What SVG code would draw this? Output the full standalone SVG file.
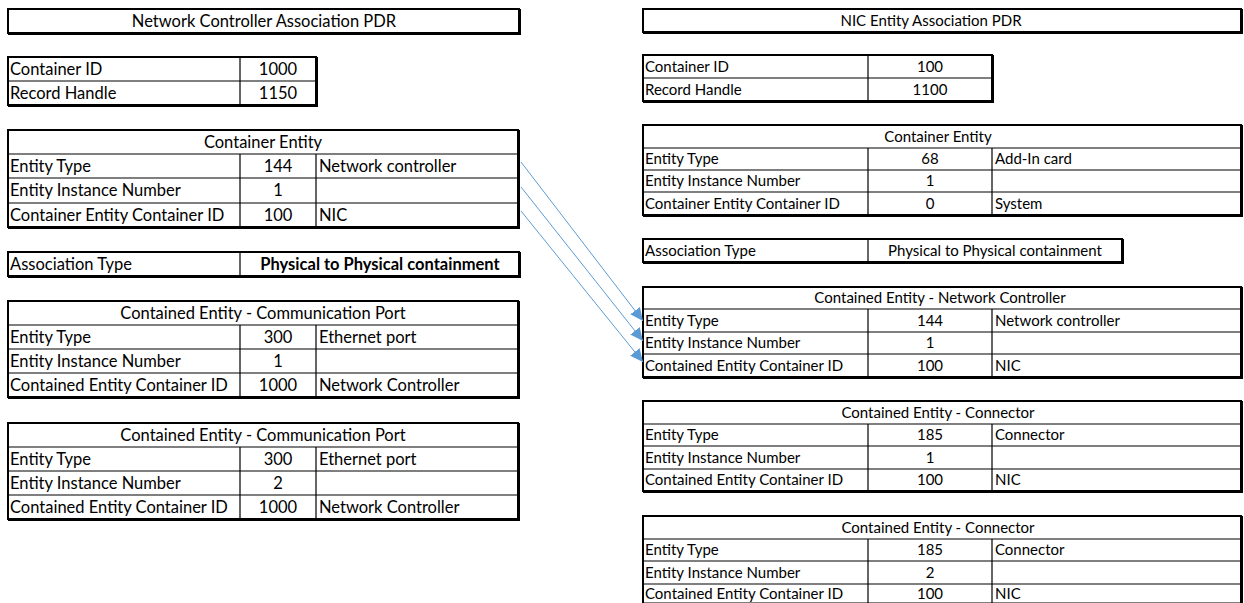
<svg xmlns="http://www.w3.org/2000/svg" width="1244" height="603" viewBox="0 0 1244 603">
<defs>
<style>
text{font-family:Lato,"Liberation Sans",sans-serif;fill:#000}
.l{font-size:16.5px}
.r{font-size:15px}
.c{text-anchor:middle}
.b{font-weight:bold}
.o{fill:#fff;stroke:#000;stroke-width:2}
.t{fill:none;stroke:#000;stroke-width:3}
.g{fill:none;stroke:#000;stroke-width:1.2}
.arr{stroke:#5B9BD5;stroke-width:1;fill:none;marker-end:url(#ah)}
</style>
<marker id="ah" markerUnits="userSpaceOnUse" markerWidth="14" markerHeight="12" refX="13" refY="6" orient="auto">
<path d="M0,0 L13,6 L0,12 Z" fill="#5B9BD5"/>
</marker>
</defs>
<rect width="1244" height="603" fill="#fff"/>

<!-- LEFT COLUMN -->
<g id="nc-title">
<rect class="o" x="8" y="9" width="511" height="24"/>
<path class="t" d="M519.5,9 V33.5 H8"/>
<text class="l c" x="264" y="26.5">Network Controller Association PDR</text>
</g>

<g id="nc-container-id">
<rect class="o" x="8" y="57" width="308" height="48"/>
<path class="t" d="M316.5,57 V105.5 H8"/>
<path class="g" d="M8,81 H316 M240,57 V105"/>
<text class="l" x="10" y="74.5">Container ID</text>
<text class="l c" x="278" y="74.5">1000</text>
<text class="l" x="10" y="98.5">Record Handle</text>
<text class="l c" x="278" y="98.5">1150</text>
</g>

<g id="nc-container-entity">
<rect class="o" x="8" y="130" width="510" height="97"/>
<path class="t" d="M518.5,130 V227.5 H8"/>
<path class="g" d="M8,154 H518 M8,178 H518 M8,203 H518 M240,154 V227 M316,154 V227"/>
<text class="l c" x="263" y="147.5">Container Entity</text>
<text class="l" x="10" y="171.5">Entity Type</text>
<text class="l c" x="278" y="171.5">144</text>
<text class="l" x="319" y="171.5">Network controller</text>
<text class="l" x="10" y="196">Entity Instance Number</text>
<text class="l c" x="278" y="196">1</text>
<text class="l" x="10" y="220.5">Container Entity Container ID</text>
<text class="l c" x="278" y="220.5">100</text>
<text class="l" x="319" y="220.5">NIC</text>
</g>

<g id="nc-association">
<rect class="o" x="8" y="252" width="511" height="24"/>
<path class="t" d="M519.5,252 V276.5 H8"/>
<path class="g" d="M240,252 V276"/>
<text class="l" x="10" y="269.5">Association Type</text>
<text class="l c b" x="380" y="269.5">Physical to Physical containment</text>
</g>

<g id="nc-port-1">
<rect class="o" x="8" y="301" width="510" height="96"/>
<path class="t" d="M518.5,301 V397.5 H8"/>
<path class="g" d="M8,325 H518 M8,349 H518 M8,373 H518 M240,325 V397 M316,325 V397"/>
<text class="l c" x="263" y="318.5">Contained Entity - Communication Port</text>
<text class="l" x="10" y="342.5">Entity Type</text>
<text class="l c" x="278" y="342.5">300</text>
<text class="l" x="319" y="342.5">Ethernet port</text>
<text class="l" x="10" y="366.5">Entity Instance Number</text>
<text class="l c" x="278" y="366.5">1</text>
<text class="l" x="10" y="390.5">Contained Entity Container ID</text>
<text class="l c" x="278" y="390.5">1000</text>
<text class="l" x="319" y="390.5">Network Controller</text>
</g>

<g id="nc-port-2">
<rect class="o" x="8" y="423" width="510" height="96"/>
<path class="t" d="M518.5,423 V519.5 H8"/>
<path class="g" d="M8,447 H518 M8,471 H518 M8,495 H518 M240,447 V519 M316,447 V519"/>
<text class="l c" x="263" y="440.5">Contained Entity - Communication Port</text>
<text class="l" x="10" y="464.5">Entity Type</text>
<text class="l c" x="278" y="464.5">300</text>
<text class="l" x="319" y="464.5">Ethernet port</text>
<text class="l" x="10" y="488.5">Entity Instance Number</text>
<text class="l c" x="278" y="488.5">2</text>
<text class="l" x="10" y="512.5">Contained Entity Container ID</text>
<text class="l c" x="278" y="512.5">1000</text>
<text class="l" x="319" y="512.5">Network Controller</text>
</g>

<!-- RIGHT COLUMN -->
<g id="nic-title">
<rect class="o" x="643" y="9" width="598" height="23"/>
<path class="t" d="M1241.5,9 V32.5 H643"/>
<text class="r c" x="931" y="25.5">NIC Entity Association PDR</text>
</g>

<g id="nic-container-id">
<rect class="o" x="643" y="55" width="349" height="46"/>
<path class="t" d="M992.5,55 V101.5 H643"/>
<path class="g" d="M643,78 H992 M868,55 V101"/>
<text class="r" x="645" y="71.5">Container ID</text>
<text class="r c" x="930" y="71.5">100</text>
<text class="r" x="645" y="94.5">Record Handle</text>
<text class="r c" x="930" y="94.5">1100</text>
</g>

<g id="nic-container-entity">
<rect class="o" x="643" y="125" width="598" height="90"/>
<path class="t" d="M1241.5,125 V215.5 H643"/>
<path class="g" d="M643,148 H1241 M643,170 H1241 M643,192 H1241 M868,148 V215 M992,148 V215"/>
<text class="r c" x="938" y="141.5">Container Entity</text>
<text class="r" x="645" y="164">Entity Type</text>
<text class="r c" x="930" y="164">68</text>
<text class="r" x="995" y="164">Add-In card</text>
<text class="r" x="645" y="186">Entity Instance Number</text>
<text class="r c" x="930" y="186">1</text>
<text class="r" x="645" y="208.5">Container Entity Container ID</text>
<text class="r c" x="930" y="208.5">0</text>
<text class="r" x="995" y="208.5">System</text>
</g>

<g id="nic-association">
<rect class="o" x="643" y="239" width="479" height="23"/>
<path class="t" d="M1122.5,239 V262.5 H643"/>
<path class="g" d="M868,239 V262"/>
<text class="r" x="645" y="255.5">Association Type</text>
<text class="r c" x="995" y="255.5">Physical to Physical containment</text>
</g>

<g id="nic-network-controller">
<rect class="o" x="643" y="287" width="598" height="90"/>
<path class="t" d="M1241.5,287 V377.5 H643"/>
<path class="g" d="M643,309 H1241 M643,332 H1241 M643,354 H1241 M868,309 V377 M992,309 V377"/>
<text class="r c" x="940" y="303">Contained Entity - Network Controller</text>
<text class="r" x="645" y="325.5">Entity Type</text>
<text class="r c" x="930" y="325.5">144</text>
<text class="r" x="995" y="325.5">Network controller</text>
<text class="r" x="645" y="348">Entity Instance Number</text>
<text class="r c" x="930" y="348">1</text>
<text class="r" x="645" y="370.5">Contained Entity Container ID</text>
<text class="r c" x="930" y="370.5">100</text>
<text class="r" x="995" y="370.5">NIC</text>
</g>

<g id="nic-connector-1">
<rect class="o" x="643" y="401" width="598" height="90"/>
<path class="t" d="M1241.5,401 V491.5 H643"/>
<path class="g" d="M643,424 H1241 M643,446 H1241 M643,469 H1241 M868,424 V491 M992,424 V491"/>
<text class="r c" x="938" y="417.5">Contained Entity - Connector</text>
<text class="r" x="645" y="440">Entity Type</text>
<text class="r c" x="930" y="440">185</text>
<text class="r" x="995" y="440">Connector</text>
<text class="r" x="645" y="462.5">Entity Instance Number</text>
<text class="r c" x="930" y="462.5">1</text>
<text class="r" x="645" y="485">Contained Entity Container ID</text>
<text class="r c" x="930" y="485">100</text>
<text class="r" x="995" y="485">NIC</text>
</g>

<g id="nic-connector-2">
<rect class="o" x="643" y="516" width="598" height="88"/>
<path class="t" d="M1241.5,516 V604 M643,604 H1241"/>
<path class="g" d="M643,539 H1241 M643,561 H1241 M643,584 H1241 M868,539 V603 M992,539 V603"/>
<text class="r c" x="938" y="532.5">Contained Entity - Connector</text>
<text class="r" x="645" y="555">Entity Type</text>
<text class="r c" x="930" y="555">185</text>
<text class="r" x="995" y="555">Connector</text>
<text class="r" x="645" y="577.5">Entity Instance Number</text>
<text class="r c" x="930" y="577.5">2</text>
<text class="r" x="645" y="599">Contained Entity Container ID</text>
<text class="r c" x="930" y="599">100</text>
<text class="r" x="995" y="599">NIC</text>
</g>

<g id="connectors">
<line class="arr" x1="521" y1="162" x2="643" y2="321"/>
<line class="arr" x1="521" y1="187" x2="643" y2="341"/>
<line class="arr" x1="521" y1="211" x2="643" y2="362"/>
</g>
</svg>
